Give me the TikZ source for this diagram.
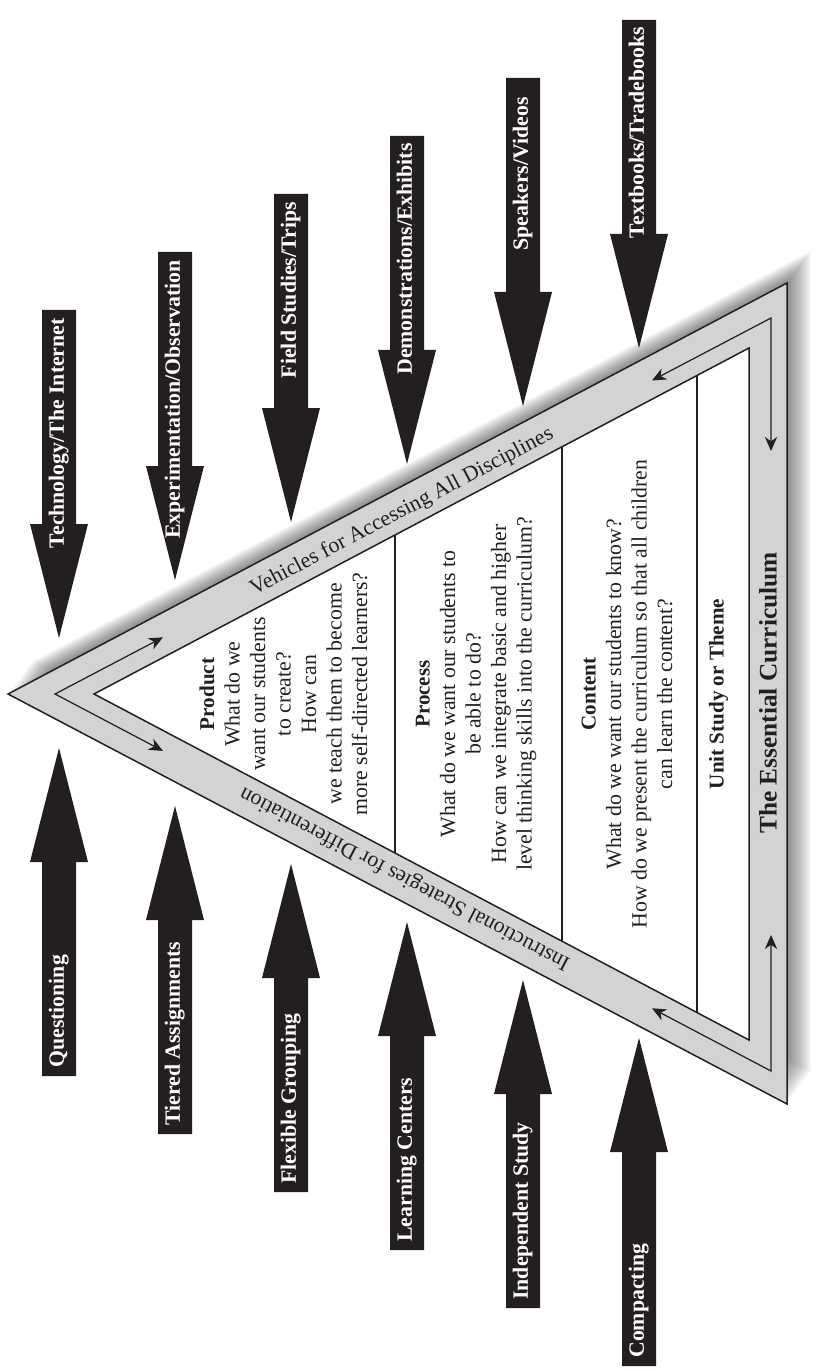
\documentclass[tikz,border=0pt]{standalone}
\usepackage{fontspec}
\setmainfont{Liberation Serif}
\usetikzlibrary{arrows.meta,calc}
\definecolor{ink}{HTML}{231F20}
\definecolor{band}{HTML}{D1D3D4}
\tikzset{
  arrlabel/.style={text=white, font=\fontsize{12.4}{14}\selectfont\bfseries, inner sep=0pt, rotate=90, text height=8.2pt, text depth=2.7pt},
  body/.style={align=center, text=ink, inner sep=0pt, font=\fontsize{12.4}{14.5}\selectfont},
  bandlabel/.style={text=ink, inner sep=0pt, font=\fontsize{12.5}{14}\selectfont},
  flow/.style={draw=ink, line width=0.7pt, {Stealth[length=8pt,width=7pt,inset=2.5pt]}-{Stealth[length=8pt,width=7pt,inset=2.5pt]}},
  tri/.style={draw=ink, line width=0.85pt, line join=miter},
  divider/.style={draw=ink, line width=0.7pt},
}
\newcommand\TopArrow[5]{%
  \fill[ink] (#1-17,#2) -- (#1+17,#2) -- (#1+17,#2+214) -- (#1+29,#2+214) -- (#1,#2+328) -- (#1-29,#2+214) -- (#1-17,#2+214) -- cycle;
  \node[arrlabel, anchor=east] (#3) at (#1,#4) {#5};
}
\newcommand\BotArrow[4]{%
  \fill[ink] (#1,#2) -- (#1+29,#2+114) -- (#1+17,#2+114) -- (#1+17,#2+328) -- (#1-17,#2+328) -- (#1-17,#2+114) -- (#1-29,#2+114) -- cycle;
  \node[arrlabel, anchor=west] (#3) at (#1,#2+320) {#4};
}
\begin{document}
\begin{tikzpicture}[x=0.02cm,y=-0.02cm]
\useasboundingbox (0,0) rectangle (820,1371);
% geometry
\coordinate (O1) at (8,694);
\coordinate (O2) at (787,283);
\coordinate (O3) at (787,1104);
\coordinate (I1) at (94,694);
\coordinate (I2) at (749,348);
\coordinate (I3) at (749,1040);
\coordinate (L1) at (55,694);
\coordinate (L2) at (771,318);
\coordinate (L3) at (771,1071);
\coordinate (ta1) at (163,637.3);
\coordinate (ba1) at (163,750.9);
\coordinate (ta2) at (652,380.5);
\coordinate (ba2) at (652,1008.3);
\coordinate (ra1) at (771,451);
\coordinate (ra2) at (771,935);
% soft shadow
\foreach \i in {1,...,24}{
  \begin{scope}[shift={(1.0*\i,-1.35*\i)}]
    \fill[black, opacity=0.022] (8,694) -- (787,283) -- (787,1104) -- cycle;
  \end{scope}
}
% triangle band
\fill[band] (O1) -- (O2) -- (O3) -- cycle;
\draw[tri] (O1) -- (O2) -- (O3) -- cycle;
\fill[white] (I1) -- (I2) -- (I3) -- cycle;
\draw[tri] (I1) -- (I2) -- (I3) -- cycle;
% dividers
\draw[divider] ($(I1)!0.4595!(I2)$) -- ($(I1)!0.4595!(I3)$);
\draw[divider] ($(I1)!0.7145!(I2)$) -- ($(I1)!0.7145!(I3)$);
\draw[divider] ($(I1)!0.9206!(I2)$) -- ($(I1)!0.9206!(I3)$);
% flow arrows in band
\draw[flow] (ta1) -- (L1) -- (ba1);
\draw[flow] (ta2) -- (L2) -- (ra1);
\draw[flow] (ba2) -- (L3) -- (ra2);
% band labels
\node[bandlabel, rotate=27.7] (vehicles) at (402,511.8) {Vehicles for Accessing All Disciplines};
\node[bandlabel, rotate=152.2] (instr) at (405,878.3) {Instructional Strategies for Differentiation};
\node[text=ink, inner sep=0pt, rotate=90, font=\fontsize{14.4}{16}\selectfont\bfseries] (essential) at (768,693) {The Essential Curriculum};
% body texts
\node[body, rotate=90] (product) at (283.5,694) {{\fontsize{12}{14.5}\selectfont\bfseries Product}\\What do we\\want our students\\to create?\\How can\\we teach them to become\\more self-directed learners?};
\node[body, rotate=90] (process) at (476,694) {{\fontsize{12}{14.5}\selectfont\bfseries Process}\\What do we want our students to\\be able to do?\\How can we integrate basic and higher\\level thinking skills into the curriculum?};
\node[body, rotate=90] (content) at (627,694) {{\fontsize{12}{14.5}\selectfont\bfseries Content}\\What do we want our students to know?\\How do we present the curriculum so that all children\\can learn the content?};
\node[text=ink, inner sep=0pt, rotate=90, font=\fontsize{12}{14}\selectfont\bfseries] (unit) at (718.5,694) {Unit Study or Theme};
% top arrows
\TopArrow{59}{310}{tech}{318}{Technology/The Internet}
\TopArrow{175}{252}{exper}{260}{Experimentation/Observation}
\TopArrow{291}{194}{field}{202}{Field Studies/Trips}
\TopArrow{407}{136}{demo}{143}{Demonstrations/Exhibits}
\TopArrow{523}{78}{speak}{97}{Speakers/Videos}
\TopArrow{639}{20}{text}{27}{Textbooks/Tradebooks}
% bottom arrows
\BotArrow{59}{748}{quest}{Questioning}
\BotArrow{175}{806}{tiered}{Tiered Assignments}
\BotArrow{291}{864}{flex}{Flexible Grouping}
\BotArrow{407}{922}{learn}{Learning Centers}
\BotArrow{523}{980}{indep}{Independent Study}
\BotArrow{639}{1038}{compact}{Compacting}
\end{tikzpicture}
\end{document}
